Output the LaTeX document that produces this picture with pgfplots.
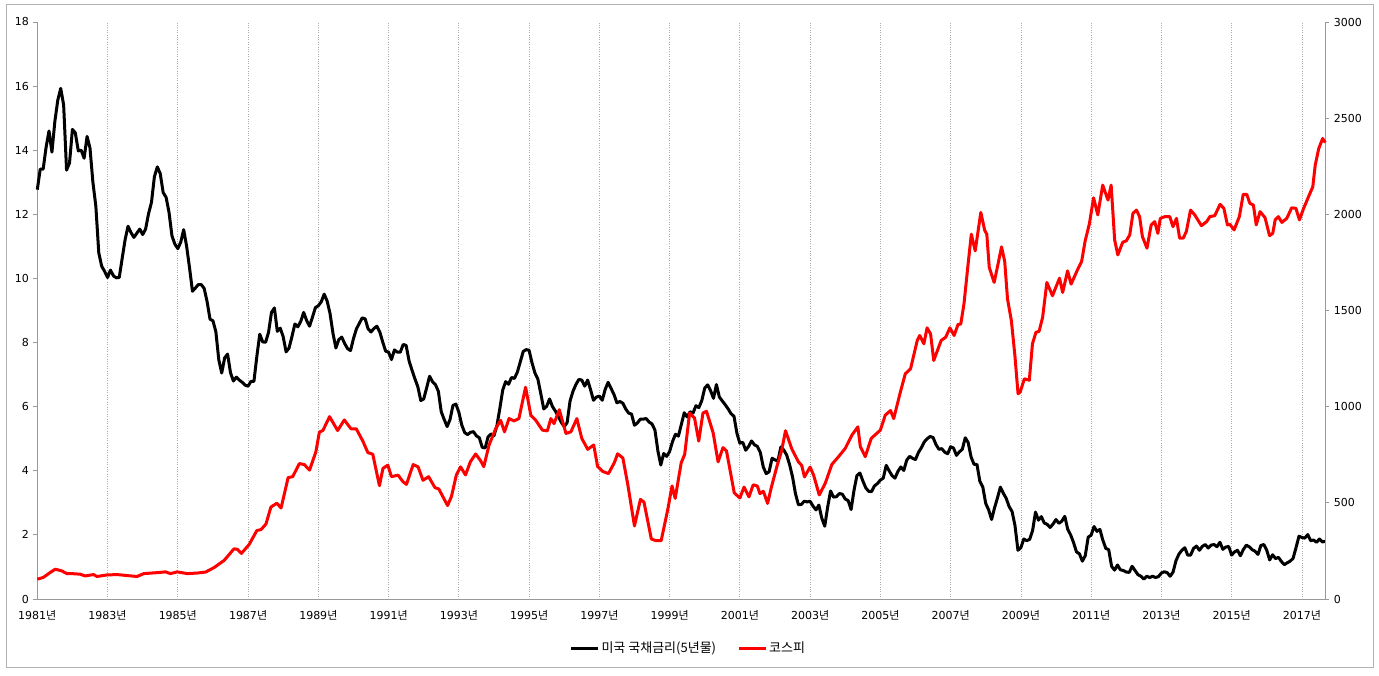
\documentclass[border=0pt]{standalone}
\usepackage{pgfplots}
\pgfplotsset{compat=1.18}
\usepackage{fontspec}
\setmainfont{DejaVu Sans}
\newfontfamily\kr{Noto Sans CJK KR}
\begin{document}
\begin{tikzpicture}[x=1pt,y=1pt]
\path (0,0) rectangle (1379,675);
\draw[gray!60, line width=1pt] (6,8) rectangle (1373,670);
\pgfplotsset{
  base/.style={
    at={(37.3pt,76pt)}, anchor=south west,
    scale only axis, width=1288pt, height=577pt,
    xmin=1981, xmax=2017.667,
    axis line style={gray!80, line width=0.8pt},
    tick style={gray!80, line width=0.8pt},
    major tick length=4pt,
    tick align=outside,
    ticklabel style={font=\fontsize{11}{13}\selectfont},
    /pgf/number format/assume math mode=true,
    /pgf/number format/1000 sep={},
    clip=false,
  }
}
\begin{axis}[base,
  ymin=0, ymax=18, ytick={0,2,...,18},
  axis x line*=bottom, axis y line*=left,
  xtick={1981,1983,...,2017},
  xticklabels={1981{\kr 년},1983{\kr 년},1985{\kr 년},1987{\kr 년},1989{\kr 년},1991{\kr 년},1993{\kr 년},1995{\kr 년},1997{\kr 년},1999{\kr 년},2001{\kr 년},2003{\kr 년},2005{\kr 년},2007{\kr 년},2009{\kr 년},2011{\kr 년},2013{\kr 년},2015{\kr 년},2017{\kr 년}},
  xtick style={draw=none},
  xticklabel style={yshift=-4pt},
  xmajorgrids, major grid style={dotted, gray!65, line width=0.7pt},
  yticklabel style={xshift=-1pt},
]
\addplot[black, line width=3pt, line join=round] coordinates {
(1981.000,12.77)(1981.083,13.41)(1981.167,13.41)(1981.250,14.09)(1981.333,14.60)(1981.417,13.94)(1981.500,14.90)(1981.583,15.56)(1981.667,15.93)(1981.750,15.41)(1981.833,13.38)(1981.917,13.60)
(1982.000,14.65)(1982.083,14.54)(1982.167,13.98)(1982.250,14.00)(1982.333,13.75)(1982.417,14.43)(1982.500,14.07)(1982.583,13.00)(1982.667,12.25)(1982.750,10.80)(1982.833,10.38)(1982.917,10.22)
(1983.000,10.03)(1983.083,10.26)(1983.167,10.08)(1983.250,10.02)(1983.333,10.03)(1983.417,10.63)(1983.500,11.21)(1983.583,11.63)(1983.667,11.43)(1983.750,11.28)(1983.833,11.41)(1983.917,11.54)
(1984.000,11.37)(1984.083,11.54)(1984.167,12.02)(1984.250,12.37)(1984.333,13.17)(1984.417,13.48)(1984.500,13.27)(1984.583,12.68)(1984.667,12.53)(1984.750,12.06)(1984.833,11.33)(1984.917,11.07)
(1985.000,10.93)(1985.083,11.13)(1985.167,11.52)(1985.250,11.01)(1985.333,10.34)(1985.417,9.60)(1985.500,9.70)(1985.583,9.81)(1985.667,9.81)(1985.750,9.69)(1985.833,9.28)(1985.917,8.73)
(1986.000,8.68)(1986.083,8.34)(1986.167,7.46)(1986.250,7.05)(1986.333,7.52)(1986.417,7.64)(1986.500,7.06)(1986.583,6.80)(1986.667,6.92)(1986.750,6.83)(1986.833,6.76)(1986.917,6.67)
(1987.000,6.64)(1987.083,6.79)(1987.167,6.79)(1987.250,7.57)(1987.333,8.26)(1987.417,8.02)(1987.500,8.01)(1987.583,8.32)(1987.667,8.94)(1987.750,9.08)(1987.833,8.35)(1987.917,8.45)
(1988.000,8.18)(1988.083,7.71)(1988.167,7.83)(1988.250,8.19)(1988.333,8.58)(1988.417,8.49)(1988.500,8.66)(1988.583,8.94)(1988.667,8.69)(1988.750,8.51)(1988.833,8.79)(1988.917,9.09)
(1989.000,9.15)(1989.083,9.27)(1989.167,9.51)(1989.250,9.30)(1989.333,8.91)(1989.417,8.29)(1989.500,7.83)(1989.583,8.09)(1989.667,8.17)(1989.750,7.97)(1989.833,7.81)(1989.917,7.75)
(1990.000,8.12)(1990.083,8.42)(1990.167,8.60)(1990.250,8.77)(1990.333,8.74)(1990.417,8.43)(1990.500,8.33)(1990.583,8.44)(1990.667,8.51)(1990.750,8.33)(1990.833,8.02)(1990.917,7.73)
(1991.000,7.70)(1991.083,7.47)(1991.167,7.77)(1991.250,7.70)(1991.333,7.70)(1991.417,7.94)(1991.500,7.91)(1991.583,7.43)(1991.667,7.14)(1991.750,6.87)(1991.833,6.62)(1991.917,6.19)
(1992.000,6.24)(1992.083,6.58)(1992.167,6.95)(1992.250,6.78)(1992.333,6.69)(1992.417,6.48)(1992.500,5.84)(1992.583,5.60)(1992.667,5.38)(1992.750,5.60)(1992.833,6.04)(1992.917,6.08)
(1993.000,5.83)(1993.083,5.43)(1993.167,5.19)(1993.250,5.13)(1993.333,5.20)(1993.417,5.22)(1993.500,5.09)(1993.583,5.03)(1993.667,4.73)(1993.750,4.71)(1993.833,5.06)(1993.917,5.15)
(1994.000,5.09)(1994.083,5.40)(1994.167,5.94)(1994.250,6.52)(1994.333,6.78)(1994.417,6.70)(1994.500,6.91)(1994.583,6.88)(1994.667,7.08)(1994.750,7.40)(1994.833,7.72)(1994.917,7.78)
(1995.000,7.76)(1995.083,7.37)(1995.167,7.05)(1995.250,6.86)(1995.333,6.41)(1995.417,5.93)(1995.500,6.01)(1995.583,6.24)(1995.667,6.00)(1995.750,5.86)(1995.833,5.69)(1995.917,5.51)
(1996.000,5.38)(1996.083,5.50)(1996.167,6.18)(1996.250,6.48)(1996.333,6.69)(1996.417,6.85)(1996.500,6.83)(1996.583,6.64)(1996.667,6.83)(1996.750,6.53)(1996.833,6.20)(1996.917,6.30)
(1997.000,6.33)(1997.083,6.20)(1997.167,6.54)(1997.250,6.76)(1997.333,6.57)(1997.417,6.38)(1997.500,6.12)(1997.583,6.16)(1997.667,6.11)(1997.750,5.93)(1997.833,5.80)(1997.917,5.77)
(1998.000,5.42)(1998.083,5.49)(1998.167,5.61)(1998.250,5.61)(1998.333,5.63)(1998.417,5.52)(1998.500,5.46)(1998.583,5.27)(1998.667,4.62)(1998.750,4.18)(1998.833,4.54)(1998.917,4.45)
(1999.000,4.60)(1999.083,4.91)(1999.167,5.14)(1999.250,5.08)(1999.333,5.44)(1999.417,5.81)(1999.500,5.68)(1999.583,5.84)(1999.667,5.80)(1999.750,6.03)(1999.833,5.97)(1999.917,6.19)
(2000.000,6.58)(2000.083,6.68)(2000.167,6.50)(2000.250,6.26)(2000.333,6.69)(2000.417,6.30)(2000.500,6.18)(2000.583,6.06)(2000.667,5.93)(2000.750,5.78)(2000.833,5.70)(2000.917,5.17)
(2001.000,4.86)(2001.083,4.89)(2001.167,4.64)(2001.250,4.76)(2001.333,4.93)(2001.417,4.81)(2001.500,4.76)(2001.583,4.57)(2001.667,4.12)(2001.750,3.91)(2001.833,3.97)(2001.917,4.39)
(2002.000,4.34)(2002.083,4.30)(2002.167,4.74)(2002.250,4.65)(2002.333,4.49)(2002.417,4.19)(2002.500,3.81)(2002.583,3.29)(2002.667,2.94)(2002.750,2.95)(2002.833,3.05)(2002.917,3.03)
(2003.000,3.05)(2003.083,2.90)(2003.167,2.78)(2003.250,2.93)(2003.333,2.52)(2003.417,2.27)(2003.500,2.87)(2003.583,3.37)(2003.667,3.18)(2003.750,3.19)(2003.833,3.29)(2003.917,3.27)
(2004.000,3.12)(2004.083,3.07)(2004.167,2.79)(2004.250,3.39)(2004.333,3.85)(2004.417,3.93)(2004.500,3.69)(2004.583,3.47)(2004.667,3.36)(2004.750,3.35)(2004.833,3.53)(2004.917,3.60)
(2005.000,3.71)(2005.083,3.77)(2005.167,4.17)(2005.250,4.00)(2005.333,3.85)(2005.417,3.77)(2005.500,3.98)(2005.583,4.12)(2005.667,4.01)(2005.750,4.33)(2005.833,4.45)(2005.917,4.39)
(2006.000,4.35)(2006.083,4.57)(2006.167,4.72)(2006.250,4.90)(2006.333,5.00)(2006.417,5.07)(2006.500,5.04)(2006.583,4.82)(2006.667,4.67)(2006.750,4.69)(2006.833,4.58)(2006.917,4.53)
(2007.000,4.75)(2007.083,4.71)(2007.167,4.48)(2007.250,4.59)(2007.333,4.67)(2007.417,5.03)(2007.500,4.88)(2007.583,4.43)(2007.667,4.20)(2007.750,4.20)(2007.833,3.67)(2007.917,3.49)
(2008.000,2.98)(2008.083,2.78)(2008.167,2.48)(2008.250,2.84)(2008.333,3.15)(2008.417,3.49)(2008.500,3.30)(2008.583,3.14)(2008.667,2.88)(2008.750,2.73)(2008.833,2.29)(2008.917,1.52)
(2009.000,1.60)(2009.083,1.87)(2009.167,1.82)(2009.250,1.86)(2009.333,2.13)(2009.417,2.71)(2009.500,2.46)(2009.583,2.57)(2009.667,2.37)(2009.750,2.33)(2009.833,2.23)(2009.917,2.34)
(2010.000,2.48)(2010.083,2.36)(2010.167,2.43)(2010.250,2.58)(2010.333,2.18)(2010.417,2.00)(2010.500,1.76)(2010.583,1.47)(2010.667,1.41)(2010.750,1.18)(2010.833,1.35)(2010.917,1.93)
(2011.000,1.99)(2011.083,2.26)(2011.167,2.11)(2011.250,2.17)(2011.333,1.84)(2011.417,1.58)(2011.500,1.54)(2011.583,1.02)(2011.667,0.90)(2011.750,1.06)(2011.833,0.91)(2011.917,0.89)
(2012.000,0.84)(2012.083,0.83)(2012.167,1.02)(2012.250,0.89)(2012.333,0.76)(2012.417,0.71)(2012.500,0.62)(2012.583,0.71)(2012.667,0.67)(2012.750,0.71)(2012.833,0.67)(2012.917,0.70)
(2013.000,0.81)(2013.083,0.85)(2013.167,0.82)(2013.250,0.71)(2013.333,0.84)(2013.417,1.20)(2013.500,1.40)(2013.583,1.52)(2013.667,1.60)(2013.750,1.37)(2013.833,1.37)(2013.917,1.58)
(2014.000,1.65)(2014.083,1.52)(2014.167,1.64)(2014.250,1.70)(2014.333,1.59)(2014.417,1.68)(2014.500,1.70)(2014.583,1.63)(2014.667,1.77)(2014.750,1.55)(2014.833,1.62)(2014.917,1.64)
(2015.000,1.37)(2015.083,1.47)(2015.167,1.52)(2015.250,1.35)(2015.333,1.54)(2015.417,1.68)(2015.500,1.63)(2015.583,1.54)(2015.667,1.49)(2015.750,1.39)(2015.833,1.67)(2015.917,1.70)
(2016.000,1.52)(2016.083,1.22)(2016.167,1.38)(2016.250,1.26)(2016.333,1.30)(2016.417,1.17)(2016.500,1.07)(2016.583,1.13)(2016.667,1.18)(2016.750,1.27)(2016.833,1.60)(2016.917,1.96)
(2017.000,1.92)(2017.083,1.90)(2017.167,2.01)(2017.250,1.82)(2017.333,1.84)(2017.417,1.77)(2017.500,1.87)(2017.583,1.78)(2017.667,1.80)
};
\end{axis}
\begin{axis}[base,
  ymin=0, ymax=3000, ytick={0,500,...,3000},
  axis y line*=right, axis x line=none,
  yticklabel style={xshift=1pt},
  legend style={draw=none, fill=none, at={(0.505,-0.085)}, anchor=center,
    legend columns=2, font=\kr\fontsize{13}{15}\selectfont,
    nodes={inner sep=1pt},
    /tikz/every odd column/.append style={column sep=1pt},
    /tikz/every even column/.append style={column sep=20pt},
    legend cell align=left},
  legend image code/.code={\draw[#1] (0pt,0pt) -- (27pt,0pt);},
]
\addlegendimage{black, line width=3pt}
\addlegendentry{미국 국채금리(5년물)}
\addplot[red, line width=3pt, line join=round] coordinates {
(1981.00,103)(1981.17,112)(1981.36,137)(1981.51,155)(1981.70,146)(1981.84,132)(1981.98,132)
(1982.22,129)(1982.36,120)(1982.60,127)(1982.70,117)(1982.98,125)(1983.27,127)(1983.55,122)(1983.84,117)
(1984.03,132)(1984.41,137)(1984.65,141)(1984.79,132)(1984.98,141)(1985.27,132)(1985.55,135)(1985.79,140)
(1986.03,163)(1986.32,201)(1986.60,261)(1986.70,258)(1986.81,237)(1987.03,283)(1987.25,356)(1987.37,361)
(1987.51,390)(1987.65,478)(1987.82,498)(1987.94,473)(1988.14,631)(1988.27,636)(1988.46,704)(1988.60,699)
(1988.75,670)(1988.93,765)(1989.03,868)(1989.13,876)(1989.32,948)(1989.55,876)(1989.74,931)(1989.93,885)
(1990.08,885)(1990.27,820)(1990.41,761)(1990.55,753)(1990.74,589)(1990.84,679)(1990.98,696)(1991.08,636)
(1991.27,644)(1991.41,610)(1991.51,596)(1991.70,699)(1991.84,687)(1991.98,617)(1992.14,636)(1992.32,579)
(1992.43,572)(1992.68,486)(1992.79,533)(1992.93,645)(1993.05,687)(1993.19,645)(1993.33,714)(1993.48,754)
(1993.62,719)(1993.71,688)(1993.86,800)(1994.05,886)(1994.19,929)(1994.30,869)(1994.43,938)(1994.57,926)
(1994.71,938)(1994.90,1101)(1995.05,955)(1995.19,929)(1995.38,878)(1995.52,874)(1995.62,938)(1995.71,912)
(1995.86,984)(1996.05,861)(1996.19,869)(1996.36,938)(1996.50,835)(1996.67,778)(1996.84,801)(1996.95,689)
(1997.10,663)(1997.26,652)(1997.43,710)(1997.52,755)(1997.67,733)(1997.81,595)(1998.00,380)(1998.17,518)
(1998.27,504)(1998.48,312)(1998.62,303)(1998.76,303)(1998.95,467)(1999.07,588)(1999.16,523)(1999.33,708)
(1999.43,752)(1999.57,967)(1999.71,941)(1999.83,821)(1999.95,967)(2000.05,976)(2000.24,864)(2000.38,713)
(2000.52,787)(2000.62,770)(2000.84,552)(2001.00,525)(2001.12,582)(2001.26,531)(2001.38,594)(2001.50,587)
(2001.57,548)(2001.67,560)(2001.79,497)(2001.90,583)(2002.05,686)(2002.19,772)(2002.30,875)(2002.48,780)
(2002.67,712)(2002.76,695)(2002.84,635)(2003.00,686)(2003.10,644)(2003.26,541)(2003.43,601)(2003.62,700)
(2003.81,740)(2004.00,783)(2004.19,852)(2004.36,895)(2004.43,792)(2004.57,740)(2004.74,835)(2005.00,878)
(2005.14,956)(2005.29,980)(2005.38,938)(2005.57,1076)(2005.71,1171)(2005.86,1197)(2006.05,1344)(2006.12,1370)
(2006.24,1327)(2006.33,1410)(2006.43,1378)(2006.52,1240)(2006.73,1344)(2006.86,1361)(2006.98,1410)(2007.10,1370)
(2007.21,1427)(2007.29,1430)(2007.38,1534)(2007.50,1745)(2007.59,1897)(2007.70,1810)(2007.86,2010)(2007.97,1917)
(2008.03,1897)(2008.10,1724)(2008.24,1646)(2008.33,1724)(2008.45,1831)(2008.54,1755)(2008.62,1560)(2008.73,1447)
(2008.83,1266)(2008.92,1067)(2008.98,1076)(2009.10,1145)(2009.24,1137)(2009.33,1327)(2009.43,1387)(2009.52,1392)
(2009.62,1465)(2009.74,1646)(2009.90,1577)(2010.10,1668)(2010.19,1594)(2010.33,1706)(2010.43,1637)(2010.62,1715)
(2010.73,1755)(2010.83,1862)(2010.95,1950)(2011.07,2086)(2011.19,1997)(2011.33,2152)(2011.48,2074)(2011.57,2152)
(2011.67,1867)(2011.76,1789)(2011.90,1855)(2012.00,1862)(2012.10,1893)(2012.19,2005)(2012.29,2022)(2012.38,1988)
(2012.46,1884)(2012.59,1824)(2012.71,1945)(2012.81,1962)(2012.90,1901)(2012.97,1979)(2013.10,1988)(2013.24,1988)
(2013.33,1936)(2013.43,1979)(2013.52,1876)(2013.62,1876)(2013.71,1910)(2013.83,2022)(2013.95,1997)(2014.14,1941)
(2014.29,1962)(2014.38,1988)(2014.52,1993)(2014.67,2052)(2014.78,2031)(2014.88,1945)(2014.95,1948)(2015.07,1919)
(2015.22,1988)(2015.33,2104)(2015.43,2104)(2015.52,2057)(2015.62,2048)(2015.70,1945)(2015.81,2014)(2015.95,1983)
(2016.08,1889)(2016.17,1901)(2016.24,1971)(2016.33,1988)(2016.43,1958)(2016.57,1979)(2016.71,2034)(2016.83,2031)
(2016.93,1971)(2017.05,2031)(2017.19,2092)(2017.31,2143)(2017.38,2256)(2017.48,2342)(2017.59,2394)(2017.667,2373)
};
\addlegendentry{코스피}
\end{axis}
\end{tikzpicture}
\end{document}
